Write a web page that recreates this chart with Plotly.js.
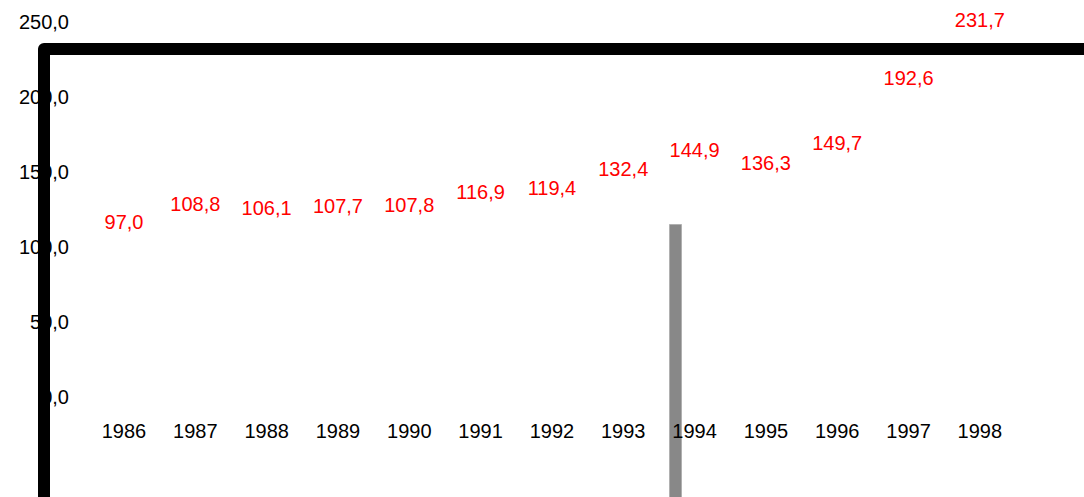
<!DOCTYPE html>
<html>
<head>
<meta charset="utf-8">
<script src="https://cdn.plot.ly/plotly-3.0.1.min.js"></script>
<style>
html,body{margin:0;padding:0;background:#fff;}
#chart{width:1084px;height:497px;}
.shapelayer path{stroke-linejoin:round;}
</style>
</head>
<body>
<div id="chart"></div>
<script>
// Data
var years = ['1986','1987','1988','1989','1990','1991','1992','1993','1994','1995','1996','1997','1998'];
var values = [97.0, 108.8, 106.1, 107.7, 107.8, 116.9, 119.4, 132.4, 144.9, 136.3, 149.7, 192.6, 231.7];
var yTickVals = [0, 50, 100, 150, 200, 250];
var yTickText = ['0,0', '50,0', '100,0', '150,0', '200,0', '250,0'];

function fmt(v){ return v.toFixed(1).replace('.', ','); }

var FONT = 'Liberation Sans, Arial, sans-serif';

var trace = {
  type: 'scatter', mode: 'markers+text',
  x: years, y: values,
  text: values.map(fmt),
  textposition: 'top center',
  textfont: {family: FONT, size: 20, color: '#ff0000'},
  marker: {size: 27, color: 'rgba(0,0,0,0)', line: {width: 0}},
  hoverinfo: 'skip', showlegend: false,
  cliponaxis: false
};

// plot area: x 70..1084, y 10..420
var L = 70, R = 0, T = 10, B = 77, W = 1084 - L - R, H = 497 - T - B;
function px(x){ return (x - L) / W; }
function py(y){ return (497 - B - y) / H; }

var layout = {
  width: 1084, height: 497,
  margin: {l: L, r: R, t: T, b: B, pad: 0},
  paper_bgcolor: '#ffffff', plot_bgcolor: '#ffffff',
  showlegend: false,
  font: {family: FONT, size: 20, color: '#000'},
  xaxis: {
    type: 'category', categoryorder: 'array', categoryarray: years,
    range: [-0.757, 13.46],
    showgrid: false, zeroline: false, showline: false, ticks: '',
    ticklabelstandoff: -3,
    tickfont: {family: FONT, size: 20, color: '#000'},
    fixedrange: true
  },
  yaxis: {
    range: [-15.33, 258],
    tickvals: yTickVals, ticktext: yTickText,
    showgrid: false, zeroline: false, showline: false, ticks: '',
    tickfont: {family: FONT, size: 20, color: '#000'},
    fixedrange: true
  },
  shapes: [
    {
      type: 'rect', xref: 'paper', yref: 'paper', layer: 'below',
      x0: px(669.5), x1: px(681.5), y0: py(560), y1: py(224.5),
      fillcolor: '#888888', line: {color: '#b0b0b0', width: 1}
    },
    {
      type: 'path', xref: 'paper', yref: 'paper', layer: 'above',
      path: 'M ' + px(44) + ',' + py(560) + ' L ' + px(44) + ',' + py(49) + ' L ' + px(1150) + ',' + py(49),
      line: {color: '#000000', width: 12}
    }
  ]
};

Plotly.newPlot('chart', [trace], layout, {displayModeBar: false, staticPlot: true});
</script>
</body>
</html>
